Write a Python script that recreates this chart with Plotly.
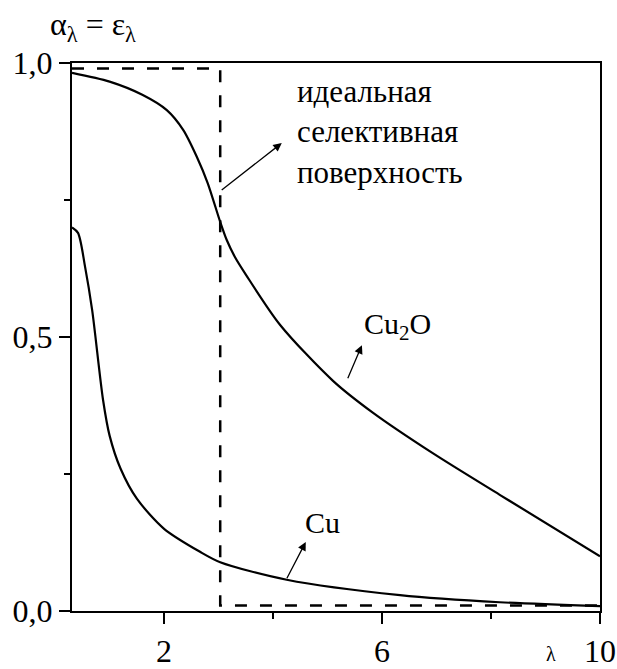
import plotly.graph_objects as go

# data
cu2o_x = [0.31, 1.0, 1.6, 2.05, 2.35, 2.6, 2.8, 3.03, 3.15, 3.3, 3.5, 4.13, 5.1, 5.83, 6.93, 8.16, 10.0]
cu2o_y = [0.982, 0.966, 0.942, 0.914, 0.878, 0.829, 0.781, 0.71, 0.677, 0.646, 0.614, 0.522, 0.42, 0.362, 0.288, 0.212, 0.10]
cu_x = [0.31, 0.42, 0.55, 0.68, 0.88, 1.0, 1.2, 1.5, 2.0, 2.66, 3.03, 4.25, 6.33, 8.16, 10.0]
cu_y = [0.70, 0.69, 0.628, 0.549, 0.385, 0.32, 0.26, 0.205, 0.15, 0.108, 0.089, 0.057, 0.029, 0.016, 0.009]
ideal_x = [0.31, 3.03, 3.03, 10.0]
ideal_y = [0.99, 0.99, 0.01, 0.01]

x_ticks = [2, 6, 10]
x_ticktext = ["2", "6", "10"]
x_minor = [4, 8]
y_ticks = [0, 0.5, 1.0]
y_ticktext = ["0,0", "0,5", "1,0"]
y_minor = [0.25, 0.75]

FONT = "Liberation Serif"

fig = go.Figure()
fig.add_trace(go.Scatter(x=ideal_x, y=ideal_y, mode="lines",
                         line=dict(color="black", width=2.5, dash="12px,13px")))
fig.add_trace(go.Scatter(x=cu2o_x, y=cu2o_y, mode="lines",
                         line=dict(color="black", width=2.2, shape="spline", smoothing=0.8)))
fig.add_trace(go.Scatter(x=cu_x, y=cu_y, mode="lines",
                         line=dict(color="black", width=2.2, shape="spline", smoothing=0.8)))

arrow_style = dict(showarrow=True, arrowhead=2, arrowsize=1.3, arrowwidth=1.3,
                   arrowcolor="black", axref="x", ayref="y", text="")
annotations = [
    dict(x=4.16, y=0.854, ax=3.03, ay=0.766, **arrow_style),
    dict(x=5.63, y=0.485, ax=5.36, ay=0.422, **arrow_style),
    dict(x=4.60, y=0.126, ax=4.24, ay=0.057, **arrow_style),
    dict(x=4.40, y=0.875, text="идеальная<br>селективная<br>поверхность", showarrow=False,
         xanchor="left", yanchor="middle", align="left",
         font=dict(family=FONT, size=31, color="black")),
    dict(x=5.63, y=0.52, text="Cu<sub>2</sub>O", showarrow=False,
         xanchor="left", yanchor="middle", font=dict(family=FONT, size=30, color="black")),
    dict(x=4.55, y=0.162, text="Cu", showarrow=False,
         xanchor="left", yanchor="middle", font=dict(family=FONT, size=30, color="black")),
    dict(x=-0.045, y=1.066, xref="paper", yref="paper",
         text="α<sub>λ</sub> = ε<sub>λ</sub>", showarrow=False,
         xanchor="left", yanchor="middle", font=dict(family=FONT, size=32, color="black")),
    dict(x=0.907, y=-0.079, xref="paper", yref="paper", text="λ", showarrow=False,
         xanchor="center", yanchor="middle", font=dict(family=FONT, size=20, color="black")),
]

fig.update_layout(
    width=617, height=669,
    margin=dict(l=72, r=17, t=63, b=58, autoexpand=False),
    paper_bgcolor="white", plot_bgcolor="white",
    showlegend=False,
    font=dict(family=FONT, size=32, color="black"),
    annotations=annotations,
)
fig.update_xaxes(range=[0.31, 10], tickmode="array", tickvals=x_ticks, ticktext=x_ticktext,
                 automargin=False,
                 showgrid=False, zeroline=False, showline=True, linecolor="black", linewidth=2,
                 mirror=True, ticks="outside", ticklen=11, tickwidth=2, tickcolor="black",
                 tickfont=dict(family=FONT, size=32, color="black"),
                 minor=dict(tickmode="array", tickvals=x_minor, ticks="outside", ticklen=6,
                            tickwidth=2, tickcolor="black", showgrid=False))
fig.update_yaxes(range=[0, 1], tickmode="array", tickvals=y_ticks, ticktext=y_ticktext,
                 automargin=False,
                 showgrid=False, zeroline=False, showline=True, linecolor="black", linewidth=2,
                 mirror=True, ticks="outside", ticklen=11, tickwidth=2, tickcolor="black",
                 tickfont=dict(family=FONT, size=32, color="black"),
                 minor=dict(tickmode="array", tickvals=y_minor, ticks="outside", ticklen=6,
                            tickwidth=2, tickcolor="black", showgrid=False))

fig.write_html("out.html")
